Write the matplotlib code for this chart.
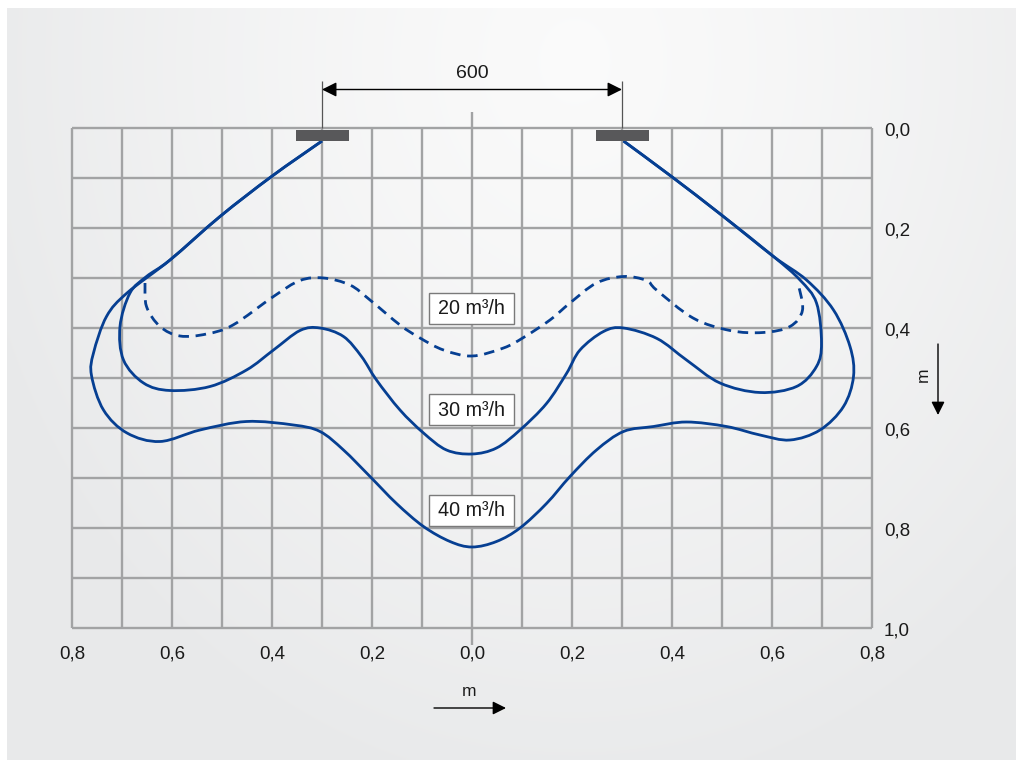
import numpy as np
import matplotlib
matplotlib.use("Agg")
import matplotlib.pyplot as plt
from matplotlib.path import Path
from matplotlib.patches import PathPatch, Rectangle

plt.rcParams['font.family'] = ['Liberation Sans', 'DejaVu Sans']

# ---------------- data (metres; x horizontal, y depth below nozzle) ----------------
x_ticks = [-0.8, -0.6, -0.4, -0.2, 0.0, 0.2, 0.4, 0.6, 0.8]
x_tick_labels = ["0,8", "0,6", "0,4", "0,2", "0,0", "0,2", "0,4", "0,6", "0,8"]
y_ticks = [0.0, 0.2, 0.4, 0.6, 0.8, 1.0]
y_tick_labels = ["0,0", "0,2", "0,4", "0,6", "0,8", "1,0"]
grid_x = [-0.8, -0.7, -0.6, -0.5, -0.4, -0.3, -0.2, -0.1, 0.0,
          0.1, 0.2, 0.3, 0.4, 0.5, 0.6, 0.7, 0.8]
grid_y = [0.0, 0.1, 0.2, 0.3, 0.4, 0.5, 0.6, 0.7, 0.8, 0.9, 1.0]
nozzle_x = [-0.3, 0.3]
spacing_label = "600"

curve40_x = [-0.300, -0.401, -0.504, -0.604, -0.690, -0.731, -0.757, -0.761, -0.737,
             -0.690, -0.624, -0.544, -0.451, -0.357, -0.304, -0.257, -0.204, -0.151,
             -0.097, -0.044, 0.000, 0.049, 0.096, 0.149, 0.196, 0.249, 0.303, 0.363,
             0.429, 0.509, 0.576, 0.636, 0.696, 0.743, 0.763, 0.756, 0.723, 0.669,
             0.603, 0.499, 0.399, 0.303]
curve40_y = [0.026, 0.097, 0.177, 0.264, 0.330, 0.377, 0.450, 0.495, 0.564,
             0.610, 0.627, 0.604, 0.587, 0.594, 0.607, 0.644, 0.697, 0.751,
             0.797, 0.827, 0.838, 0.827, 0.800, 0.751, 0.697, 0.644, 0.607, 0.597,
             0.588, 0.597, 0.614, 0.624, 0.604, 0.557, 0.497, 0.437, 0.364, 0.304,
             0.257, 0.174, 0.097, 0.026]

curve30_x = [-0.300, -0.401, -0.504, -0.604, -0.651, -0.684, -0.704, -0.697, -0.657,
             -0.604, -0.524, -0.451, -0.397, -0.344, -0.304, -0.257, -0.221, -0.191,
             -0.144, -0.097, -0.051, 0.000, 0.049, 0.096, 0.149, 0.189, 0.216, 0.263,
             0.303, 0.370, 0.429, 0.496, 0.576, 0.649, 0.689, 0.699, 0.689, 0.656,
             0.603, 0.499, 0.399, 0.303]
curve30_y = [0.026, 0.097, 0.177, 0.264, 0.297, 0.330, 0.397, 0.464, 0.510,
             0.525, 0.517, 0.484, 0.444, 0.405, 0.400, 0.417, 0.457, 0.504,
             0.564, 0.610, 0.644, 0.652, 0.640, 0.604, 0.551, 0.491, 0.444, 0.407,
             0.400, 0.421, 0.464, 0.510, 0.529, 0.517, 0.477, 0.430, 0.350, 0.304,
             0.257, 0.174, 0.097, 0.026]

curve20_x = [-0.654, -0.651, -0.624, -0.584, -0.531, -0.478, -0.397, -0.344, -0.297,
             -0.244, -0.204, -0.144, -0.104, -0.057, 0.000, 0.063, 0.103, 0.156,
             0.196, 0.249, 0.303, 0.349, 0.369, 0.442, 0.516, 0.582, 0.636, 0.661,
             0.652]
curve20_y = [0.310, 0.357, 0.397, 0.416, 0.412, 0.394, 0.337, 0.305, 0.300,
             0.314, 0.344, 0.394, 0.420, 0.444, 0.456, 0.440, 0.419, 0.384,
             0.350, 0.310, 0.297, 0.305, 0.324, 0.380, 0.405, 0.409, 0.397, 0.364,
             0.310]

flow_labels = ["20 m³/h", "30 m³/h", "40 m³/h"]
flow_label_y = [0.360, 0.562, 0.764]

# ---------------- styles ----------------
BLUE = "#063f92"
GRID = "#a2a3a4"
FS = 13.5

W, H, DPI = 1016, 760, 100
fig = plt.figure(figsize=(W / DPI, H / DPI), dpi=DPI)
fig.patch.set_facecolor("white")
ax = fig.add_axes([0, 0, 1, 1])
# 500 px per metre, origin (x=0, y=0) at pixel (472, 128)
ax.set_xlim((0 - 472) / 500, (W - 472) / 500)
ax.set_ylim((H - 128) / 500, (0 - 128) / 500)
ax.set_axis_off()

# background panel with soft radial gradient
px0, py0 = 7, 8
gx = np.linspace(px0, W, 300)
gy = np.linspace(py0, H, 240)
GX, GY = np.meshgrid(gx, gy)
r = np.sqrt(((GX - 575) / 640) ** 2 + ((GY - 60) / 760) ** 2)
r = np.clip(r, 0, 1)
light = np.array([0.982, 0.982, 0.982])
dark = np.array([0.910, 0.914, 0.918])
img = light[None, None, :] + (dark - light)[None, None, :] * (r[..., None] ** 1.3)
ax.imshow(img, extent=((px0 - 472) / 500, (W - 472) / 500, (H - 128) / 500, (py0 - 128) / 500),
          aspect='auto', zorder=0, interpolation='bilinear')

# grid
ax.vlines(grid_x, grid_y[0], grid_y[-1], colors=GRID, lw=1.7, zorder=1)
ax.hlines(grid_y, grid_x[0], grid_x[-1], colors=GRID, lw=1.7, zorder=1)
# centre line extensions
ax.vlines([0.0], [-0.033], [0.0], colors=GRID, lw=1.7, zorder=1)
ax.vlines([0.0], [1.0], [1.034], colors=GRID, lw=1.7, zorder=1)

# tick labels
for xv, lab in zip(x_ticks, x_tick_labels):
    ax.text(xv, 1.052, lab, ha='center', va='center', fontsize=FS, color='#1a1a1a')
for yv, lab in zip(y_ticks, y_tick_labels):
    ax.text(0.824, yv + 0.006, lab, ha='left', va='center', fontsize=FS, color='#1a1a1a')


def smooth_path(xs, ys):
    """Catmull-Rom spline through the read points, as cubic Bezier path."""
    P = np.column_stack([xs, ys])
    n = len(P)
    verts = [P[0]]
    codes = [Path.MOVETO]
    for i in range(n - 1):
        p0 = P[i - 1] if i > 0 else P[i]
        p1 = P[i]
        p2 = P[i + 1]
        p3 = P[i + 2] if i + 2 < n else P[i + 1]
        c1 = p1 + (p2 - p0) / 6.0
        c2 = p2 - (p3 - p1) / 6.0
        verts += [c1, c2, p2]
        codes += [Path.CURVE4] * 3
    return Path(np.array(verts), codes)


for xs, ys, ls in [(curve40_x, curve40_y, 'solid'),
                   (curve30_x, curve30_y, 'solid'),
                   (curve20_x, curve20_y, (0, (3.8, 2.4)))]:
    patch = PathPatch(smooth_path(xs, ys), fill=False, edgecolor=BLUE, lw=2.0,
                      linestyle=ls, zorder=3, capstyle='butt', joinstyle='round')
    ax.add_patch(patch)

# nozzles
for nx in nozzle_x:
    ax.add_patch(Rectangle((nx - 0.053, 0.004), 0.106, 0.022, facecolor='#58585a',
                           edgecolor='none', zorder=4))

# flow labels
for lab, ly in zip(flow_labels, flow_label_y):
    ax.add_patch(Rectangle((-0.086, ly - 0.031), 0.169, 0.062, facecolor='white',
                           edgecolor='#7a7a7a', lw=1.0, zorder=5))
    ax.text(-0.002, ly + 0.002, lab, ha='center', va='center', fontsize=14.2,
            color='#1a1a1a', zorder=6)

# spacing dimension
ax.vlines(nozzle_x, -0.094, 0.0, colors='#555555', lw=0.9, zorder=2)
ax.annotate('', xy=(nozzle_x[0], -0.077), xytext=(nozzle_x[1], -0.077),
            arrowprops=dict(arrowstyle='<|-|>', color='black', lw=1.0,
                            mutation_scale=22, shrinkA=0, shrinkB=0), zorder=6)
ax.text(0.0, -0.108, spacing_label, ha='center', va='center', fontsize=14, color='#1a1a1a')

# axis direction arrows
ax.annotate('', xy=(0.068, 1.160), xytext=(-0.076, 1.160),
            arrowprops=dict(arrowstyle='-|>', color='black', lw=1.0,
                            mutation_scale=20, shrinkA=0, shrinkB=0))
ax.text(-0.006, 1.128, "m", ha='center', va='center', fontsize=12.5, color='#1a1a1a')
ax.annotate('', xy=(0.932, 0.574), xytext=(0.932, 0.432),
            arrowprops=dict(arrowstyle='-|>', color='black', lw=1.0,
                            mutation_scale=20, shrinkA=0, shrinkB=0))
ax.text(0.903, 0.494, "m", ha='center', va='center', fontsize=12.5, rotation=90, color='#1a1a1a')

fig.savefig("out.png", dpi=DPI, facecolor=fig.get_facecolor())
